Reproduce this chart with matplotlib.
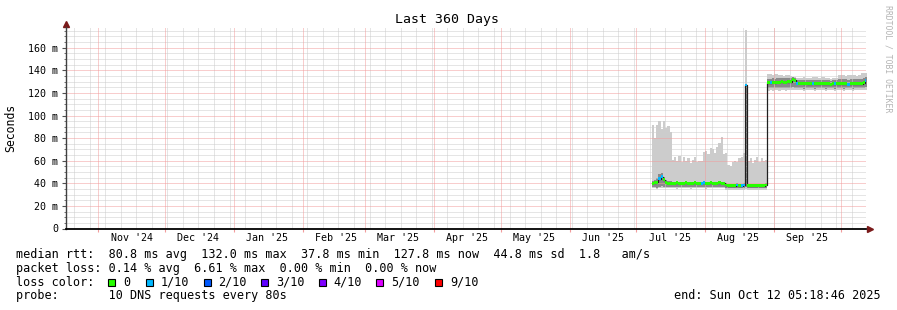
import numpy as np
import pandas as pd
import matplotlib
matplotlib.use("Agg")
import matplotlib.pyplot as plt
import matplotlib.dates as mdates
from matplotlib.patches import Rectangle

W, H = 897, 310
MONO = "DejaVu Sans Mono"

# graph window: the last 360 days up to the "end:" stamp
t_end = pd.Timestamp("2025-10-12 05:18:46")
t_start = t_end - pd.Timedelta(days=360)

# one value per day from 2025-07-08 to 2025-10-12, all in ms
first_day = "2025-07-08"
smoke_hi = [
    92, 80, 92, 95, 88, 95, 89,
    91, 85, 61, 63, 60, 64, 59,
    63, 60, 62, 58, 61, 63, 59,
    60, 60, 68, 69, 66, 71, 70,
    67, 72, 76, 81, 66, 67, 56,
    55, 59, 60, 59, 62, 63, 67,
    176, 60, 62, 58, 61, 63, 59,
    62, 60, 61, 137, 137, 136, 137,
    137, 136, 136, 135, 136, 136, 135,
    134, 134, 133, 133, 133, 134, 133,
    133, 133, 134, 134, 134, 133, 134,
    134, 133, 133, 132, 133, 133, 133,
    136, 136, 136, 135, 136, 136, 136,
    136, 135, 136, 138, 138, 138,
]
smoke_lo = [
    35.5, 35.5, 35, 35.5, 36, 35.5, 35.5,
    35.5, 35.5, 35.5, 35.5, 35, 35.5, 35.5,
    35.5, 35.5, 35.5, 35, 35.5, 35.5, 35.5,
    35.5, 35.5, 35.5, 35, 35.5, 35.5, 35.5,
    35.5, 35.5, 35.5, 35.5, 35.5, 34.5, 34,
    34, 34, 34.5, 34, 34, 34.5, 34.5,
    35, 34.5, 34, 34, 34.5, 34.5, 34,
    34.5, 34.5, 34.5, 122, 122.5, 122, 122.5,
    122.5, 122, 122.5, 122.5, 122, 122.5, 122.5,
    123, 123, 122.5, 122.5, 122.5, 122, 122.5,
    122.5, 122.5, 122.5, 122, 122.5, 122.5, 122.5,
    122.5, 122, 122.5, 122.5, 122.5, 122, 122.5,
    122.5, 122.5, 122, 122.5, 122.5, 122.5, 122,
    122.5, 122.5, 122.5, 122.5, 123, 123,
]
inner_lo = [
    36.5, 36.5, 36, 37, 38, 37, 36.5,
    36.5, 36.5, 36.5, 36.5, 36.5, 36.5, 36.5,
    36.5, 36.5, 36.5, 36.5, 36.5, 36.5, 36.5,
    36.5, 36.5, 36.5, 36.5, 36.5, 36.5, 36.5,
    36.5, 36.5, 36.5, 36.5, 36.5, 35.5, 35.5,
    35.5, 35.5, 35.5, 35.5, 35.5, 35.5, 35.5,
    37, 35.5, 35.5, 35.5, 35.5, 35.5, 35.5,
    35.5, 35.5, 35.5, 124, 124, 124, 124,
    124, 124, 124, 124, 124, 124, 124,
    125, 124.5, 124, 124, 124, 123.5, 124,
    124, 124, 124, 123.5, 124, 124, 124,
    124, 123.5, 124, 124, 124, 123.5, 124,
    124, 124, 123.5, 124, 124, 124, 123.5,
    124, 124, 124, 124, 124.5, 125,
]
inner_hi = [
    42, 43, 45, 48, 49, 46, 43,
    42, 42, 41.5, 41.5, 42, 41.5, 41.5,
    41.5, 42, 41.5, 41.5, 41.5, 42, 41.5,
    41.5, 41.5, 42, 41.5, 41.5, 42, 41.5,
    41.5, 41.5, 42, 41.5, 41.5, 40, 39.5,
    39.5, 39.5, 39.5, 40, 39.5, 39.5, 40,
    127, 39.5, 39.5, 39.5, 39.5, 39.5, 39.5,
    39.5, 39.5, 40, 132.5, 132.5, 133, 132.5,
    133, 133, 133, 133, 133, 133, 133,
    134.5, 133.5, 131.5, 131.5, 131.5, 131, 131.5,
    131, 131, 131.5, 131, 131, 131, 131,
    131, 131, 131, 130.5, 131, 131, 131,
    132, 132, 132, 132, 131.5, 132, 132,
    132, 132, 132, 132, 133, 134,
]
median = [
    40, 40.5, 41, 44, 46, 43, 41,
    40, 40, 40, 40, 40.5, 40, 40,
    40, 40.5, 40, 40, 40, 40.5, 40,
    40, 40, 40.5, 40, 40, 40.5, 40,
    40, 40, 40.5, 40, 40, 38.5, 38,
    38, 38, 38, 38.5, 38, 38, 38.5,
    127, 38, 38, 37.8, 38, 38, 38,
    38, 38, 38.5, 129, 129, 129.5, 129,
    129.5, 129.5, 130, 129.5, 129.5, 130, 130,
    132, 131, 128.5, 128.5, 128.5, 128, 128.5,
    128, 128, 128.5, 128, 128, 128, 128,
    128, 128, 128, 127.5, 128, 128, 128,
    128, 128, 128, 128, 127.5, 128, 128,
    128, 128, 128, 128, 129, 131,
]
# index into loss_colors (0 = no loss, 1 = 1/10)
loss = [
    0, 0, 0, 1, 1, 0, 0,
    0, 0, 0, 0, 0, 0, 0,
    0, 0, 0, 0, 0, 0, 0,
    0, 1, 1, 0, 0, 0, 0,
    0, 0, 0, 0, 0, 0, 0,
    0, 0, 0, 1, 0, 1, 1,
    1, 0, 0, 0, 0, 0, 0,
    0, 0, 0, 0, 1, 0, 0,
    0, 0, 0, 0, 0, 0, 0,
    0, 0, 1, 0, 0, 0, 0,
    0, 0, 1, 0, 0, 0, 0,
    0, 0, 0, 0, 0, 1, 0,
    0, 0, 0, 0, 1, 0, 0,
    0, 0, 0, 0, 0, 1,
]

loss_labels = ["0", "1/10", "2/10", "3/10", "4/10", "5/10", "9/10"]
loss_colors = ["#26ff00", "#00b8ff", "#0059ff", "#5e00ff", "#7e00ff", "#dd00ff", "#ff0000"]

month_labels = ["Nov '24", "Dec '24", "Jan '25", "Feb '25", "Mar '25", "Apr '25",
                "May '25", "Jun '25", "Jul '25", "Aug '25", "Sep '25"]
y_ticks_ms = [0, 20, 40, 60, 80, 100, 120, 140, 160]
y_tick_labels = ["0", "20 m", "40 m", "60 m", "80 m", "100 m", "120 m", "140 m", "160 m"]

stats_lines = [
    "median rtt:  80.8 ms avg  132.0 ms max  37.8 ms min  127.8 ms now  44.8 ms sd  1.8   am/s",
    "packet loss: 0.14 % avg  6.61 % max  0.00 % min  0.00 % now",
    "loss color:",
    "probe:       10 DNS requests every 80s",
]
end_text = "end: Sun Oct 12 05:18:46 2025"


def fx(px):
    return px / W


def fy(py):
    return 1 - py / H


def ext(vals):
    a = np.asarray(vals, dtype=float) / 1000.0
    return np.append(a, a[-1])


days = pd.date_range(first_day, periods=len(median), freq="D")
x_days = mdates.date2num(days)
x_edges = np.append(x_days, x_days[-1] + 1)

fig = plt.figure(figsize=(W / 100, H / 100), dpi=100, facecolor="white")
ax = fig.add_axes([fx(65.6), fy(228.5), fx(800), 201.1 / H])
ax.set_facecolor("white")

# smoke
ax.fill_between(x_edges, ext(smoke_lo), ext(smoke_hi), step="post",
                color="#cccccc", lw=0, zorder=1)
ax.fill_between(x_edges, ext(inner_lo), ext(inner_hi), step="post",
                color="#8a8a8a", lw=0, zorder=1.5)

# grid, drawn over the smoke like rrdtool does (1px on / 1px off)
dots = (0, (1, 1))
minor_c, major_c = "#cdcdcd", "#f29c9c"


def gridline(line, major):
    line.set_snap(True)
    line.set_zorder(2 if major else 1.8)


for v in np.arange(5, 178, 5):
    major = v % 20 == 0
    gridline(ax.axhline(v / 1000, color=major_c if major else minor_c, lw=0.72, ls=dots), major)
for d in pd.date_range(t_start.normalize(), t_end, freq="W-MON"):
    gridline(ax.axvline(mdates.date2num(d), color=minor_c, lw=0.72, ls=dots), False)
month_starts = pd.date_range("2024-11-01", "2025-10-01", freq="MS")
for d in month_starts:
    gridline(ax.axvline(mdates.date2num(d), color=major_c, lw=0.72, ls=dots), True)

# median: thin dark line, then loss-coloured bars
ax.step(x_edges, ext(median), where="post", color="#202020", lw=0.9, zorder=3)
ax.bar(x_days, 2.6e-3, bottom=np.asarray(median) / 1000 - 1.3e-3, width=1.0,
       align="edge", color=[loss_colors[k] for k in loss], lw=0, zorder=4)

ax.set_xlim(mdates.date2num(t_start), mdates.date2num(t_end))
ax.set_ylim(0, 0.178)

# month names sit in the middle of their month
mids = mdates.date2num(pd.date_range("2024-11-01", periods=len(month_labels), freq="MS")
                       + pd.Timedelta(days=15))
ax.set_xticks(mids, month_labels)
ax.set_xticks(mdates.date2num(month_starts), minor=True)
ax.tick_params(axis="x", which="major", length=0, pad=3.5, labelsize=7.2)
ax.tick_params(axis="x", which="minor", length=2.5, color=major_c, width=0.8)
ax.set_yticks(np.array(y_ticks_ms) / 1000, y_tick_labels)
ax.set_yticks(np.arange(0, 0.178, 0.005), minor=True)
ax.tick_params(axis="y", which="major", length=3, width=0.8, color="#505050",
               pad=2.5, labelsize=7.2)
ax.tick_params(axis="y", which="minor", length=1.5, width=0.7, color="#707070")
for lab in ax.get_xticklabels() + ax.get_yticklabels():
    lab.set_family(MONO)

for s in ("top", "right"):
    ax.spines[s].set_visible(False)
ax.spines["left"].set_color("#404040")
ax.spines["left"].set_linewidth(1.0)
ax.spines["bottom"].set_color("black")
ax.spines["bottom"].set_linewidth(1.3)
ax.spines["left"].set_zorder(5)
ax.spines["bottom"].set_zorder(5)

# axis arrows
ax.plot([fx(66)], [fy(23.5)], marker="^", ms=5, color="#7a1a1a", mec="#7a1a1a",
        transform=fig.transFigure, clip_on=False)
ax.plot([fx(870)], [fy(228.5)], marker=">", ms=5, color="#7a1a1a", mec="#7a1a1a",
        transform=fig.transFigure, clip_on=False)

fig.text(fx(447), fy(19), "Last 360 Days", ha="center", va="center",
         fontsize=9.5, family=MONO)
fig.text(fx(11), fy(127.5), "Seconds", rotation=90, ha="center", va="center",
         fontsize=8.3, family=MONO)
fig.text(fx(887.5), fy(59), "RRDTOOL / TOBI OETIKER", rotation=270, ha="center",
         va="center", fontsize=5.9, color="#b4b4b4", family=MONO)

for i, line in enumerate(stats_lines):
    fig.text(fx(16), fy(258.3 + 13.7 * i), line, ha="left", va="baseline",
             fontsize=8.45, family=MONO)
fig.text(fx(881), fy(299.3), end_text, ha="right", va="baseline",
         fontsize=8.45, family=MONO)

box_x = [108, 146, 203.5, 261, 318.5, 376, 435]
for bx, lab, col in zip(box_x, loss_labels, loss_colors):
    fig.add_artist(Rectangle((fx(bx), fy(286)), 7 / W, 7 / H, transform=fig.transFigure,
                             facecolor=col, edgecolor="black", lw=0.8))
    fig.text(fx(bx + 15), fy(285.7), lab, ha="left", va="baseline",
             fontsize=8.45, family=MONO)

fig.savefig("out.png", dpi=100, facecolor="white")
